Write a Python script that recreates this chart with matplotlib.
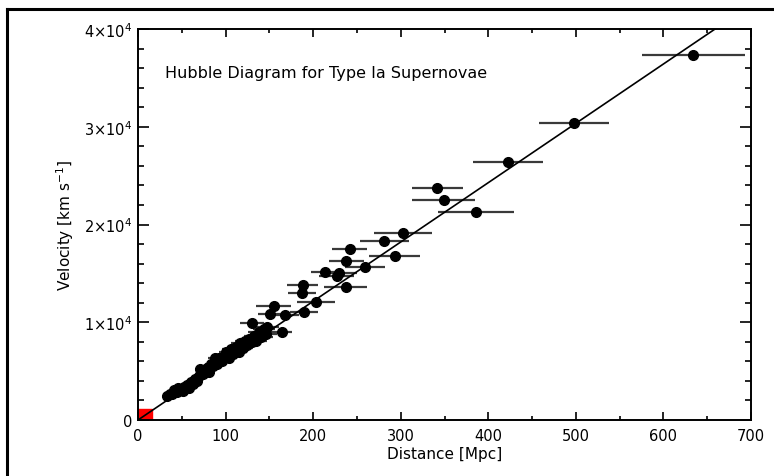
import numpy as np
import matplotlib
matplotlib.use("Agg")
import matplotlib.pyplot as plt
from matplotlib.lines import Line2D
from matplotlib.patches import Rectangle

# distances [Mpc], velocities [km/s], distance errors [Mpc]
dist_far = [634, 498, 422, 342, 349, 386, 303, 281, 242, 293, 238, 259, 214,
            230, 227, 188, 237, 187, 203, 155, 190, 151, 168, 130, 147, 164]
vel_far = [37340, 30350, 26420, 23730, 22540, 21310, 19120, 18300, 17460,
           16810, 16220, 15690, 15130, 15060, 14730, 13830, 13640, 13020,
           12120, 11690, 11020, 10820, 10700, 9920, 9480, 8970]
err_far = [59, 40, 40, 29, 36, 43, 33, 28, 20, 29, 20, 23, 17,
           20, 20, 18, 25, 16, 22, 20, 16, 14, 16, 14, 14, 12]

dist_near = [33, 36, 39, 41, 44, 46, 48, 51, 53, 56, 58, 60, 63, 65, 67, 70,
             71, 74, 76, 79, 81, 83, 86, 88, 90, 93, 96, 99, 101, 104, 106,
             109, 112, 115, 117, 120, 122, 125, 127, 130, 133, 135, 138, 141,
             144, 146]
vel_near = [2500, 2700, 2650, 3050, 2900, 3300, 3100, 3000, 3400, 3600, 3300,
            3900, 3700, 4200, 4000, 4500, 5200, 4700, 5000, 5300, 4900, 5700,
            5500, 6300, 5700, 6300, 6000, 6600, 7000, 6300, 7300, 6800, 7500,
            7000, 7900, 7400, 8100, 7700, 8300, 8000, 8600, 8100, 9000, 8500,
            9300, 8800]
err_near = [3, 3, 4, 4, 4, 4, 4, 5, 5, 5, 5, 5, 6, 6, 6, 6,
            6, 7, 7, 7, 7, 7, 8, 8, 8, 8, 9, 9, 9, 9, 10,
            10, 10, 10, 11, 11, 11, 11, 11, 12, 12, 12, 12, 13,
            13, 13]

H0 = 60.7  # km/s/Mpc, slope of fitted line
x_ticks = [0, 100, 200, 300, 400, 500, 600, 700]
y_ticks = [0, 10000, 20000, 30000, 40000]
y_labels = ['0', '1×10$^4$', '2×10$^4$', '3×10$^4$', '4×10$^4$']

plt.rcParams['font.family'] = ['DejaVu Sans']
plt.rcParams['mathtext.fontset'] = 'dejavusans'

fig = plt.figure(figsize=(7.74, 4.77), dpi=100)
ax = fig.add_axes([138 / 774, 1 - 421 / 477, 613 / 774, 391 / 477])

# outer frame (only left and top edges visible)
fig.add_artist(Line2D([7 / 774, 7 / 774], [0, 1 - 10 / 477], color='black', lw=2.2))
fig.add_artist(Line2D([7 / 774, 1], [1 - 10 / 477, 1 - 10 / 477], color='black', lw=2.2))

ax.add_patch(Rectangle((0, 0), 16, 1100, color='red', zorder=1))

xd = np.array(dist_near + dist_far)
yd = np.array(vel_near + vel_far)
xe = np.array(err_near + err_far)
ax.errorbar(xd, yd, xerr=xe, fmt='o', color='black', ms=7,
            ecolor='#3a3a3a', elinewidth=1.6, capsize=0, zorder=3)

xl = np.array([0, 700])
ax.plot(xl, H0 * xl, color='black', lw=1.2, zorder=4)

ax.set_xlim(0, 700)
ax.set_ylim(0, 40000)
ax.set_xticks(x_ticks)
ax.set_xticks(np.arange(50, 700, 100), minor=True)
ax.set_yticks(y_ticks)
ax.set_yticklabels(y_labels)
ax.set_yticks(np.arange(0, 40001, 2000), minor=True)

ax.tick_params(which='both', direction='in', top=True, right=True,
               labelsize=10.5, width=1.2, colors='black')
ax.tick_params(axis='x', which='major', length=6, pad=6)
ax.tick_params(axis='x', which='minor', length=3)
ax.tick_params(axis='y', which='major', length=8, pad=4)
ax.tick_params(axis='y', which='minor', length=4)
for s in ax.spines.values():
    s.set_linewidth(1.4)

ax.set_xlabel('Distance [Mpc]', fontsize=11, labelpad=2)
ax.set_ylabel('Velocity [km s$^{-1}$]', fontsize=11, labelpad=6)
ax.text(0.044, 0.89, 'Hubble Diagram for Type Ia Supernovae',
        transform=ax.transAxes, fontsize=11.5, va='center', ha='left')

fig.savefig('out.png', dpi=100)
